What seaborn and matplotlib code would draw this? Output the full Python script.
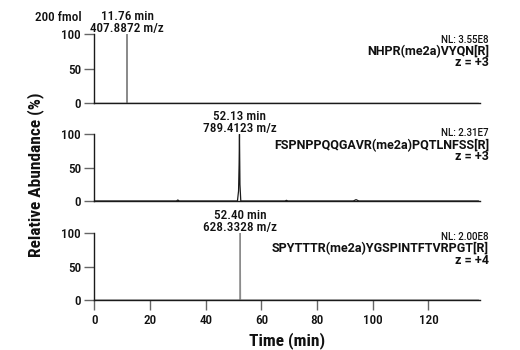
import matplotlib
matplotlib.use("Agg")
import matplotlib.pyplot as plt
import seaborn as sns
import pandas as pd
from matplotlib import font_manager

sns.set_theme(style="white")
names = {f.name for f in font_manager.fontManager.ttflist}
prefs = ["Roboto Condensed", "Liberation Sans Narrow", "Archivo Narrow",
         "IBM Plex Sans Condensed", "Liberation Sans", "DejaVu Sans"]
fam = [f for f in prefs if f in names]
plt.rcParams['font.family'] = fam
wide = [f for f in ["Roboto", "Liberation Sans", "DejaVu Sans"] if f in names]

# ---- data ----
t1 = [0, 11.70, 11.76, 11.82, 138]
i1 = [0, 0, 100, 0, 0]

t2 = [0, 29.5, 30.0, 30.5, 51.4, 51.8, 52.0, 52.13, 52.3, 52.6, 68.5, 69.0, 69.5,
      93.0, 94.0, 95.0, 138]
i2 = [0, 0, 1.5, 0, 0, 15, 55, 100, 25, 0, 0, 1.0, 0, 0, 2.0, 0, 0]

t3 = [0, 52.30, 52.40, 52.50, 138]
i3 = [0, 0, 100, 0, 0]

peak_rt = ["11.76 min", "52.13 min", "52.40 min"]
peak_mz = ["407.8872 m/z", "789.4123 m/z", "628.3328 m/z"]
peak_x = [11.76, 52.13, 52.40]
nl = ["NL: 3.55E8", "NL: 2.31E7", "NL: 2.00E8"]
peptides = ["NHPR(me2a)VYQN[R]", "FSPNPPQQGAVR(me2a)PQTLNFSS[R]", "SPYTTTR(me2a)YGSPINTFTVRPGT[R]"]
charges = ["z = +3", "z = +3", "z = +4"]
yticks = [0, 50, 100]
xticks = [0, 20, 40, 60, 80, 100, 120]

# ---- layout / style ----
traces = [(t1, i1), (t2, i2), (t3, i3)]
line_colors = ["#8c8c8c", "#1a1a1a", "#8c8c8c"]
W, H = 520, 350
left_px, right_px = 94.3, 480.0
panels_px = [(34.3, 103.3), (134.3, 201.0), (233.0, 300.0)]   # (top, bottom) in pixels
label_base = [(8.5, 20.5, 32), (2, 14.5, 26), (7.5, 19.5, 31)] # baselines, px below top
text_right_px = 9                                               # text right edge past axis end

fig = plt.figure(figsize=(W / 100, H / 100), dpi=100)
tc = "#111111"

for k in range(3):
    top, bot = panels_px[k]
    ax = fig.add_axes([left_px / W, 1 - bot / H, (right_px - left_px) / W, (bot - top) / H])
    df = pd.DataFrame({"t": traces[k][0], "i": traces[k][1]})
    sns.lineplot(data=df, x="t", y="i", ax=ax, color=line_colors[k], lw=0.9)
    ax.set_xlim(0, 138.5)
    ax.set_ylim(0, 100)
    for s in ["top", "right"]:
        ax.spines[s].set_visible(False)
    for s in ["left", "bottom"]:
        ax.spines[s].set_color("#1a1a1a")
        ax.spines[s].set_linewidth(1.0)
    ax.set_yticks(yticks)
    ax.tick_params(axis="y", which="both", left=True, direction="out", length=7,
                   width=1.0, color="#666666", labelsize=9.5, pad=2.5, labelcolor=tc)
    for lab in ax.get_yticklabels():
        lab.set_fontweight("medium")
    ax.set_xlabel("")
    ax.set_ylabel("")
    if k < 2:
        ax.set_xticks([])
    else:
        ax.set_xticks(xticks)
        ax.tick_params(axis="x", which="both", bottom=True, direction="out", length=7,
                       width=1.0, color="#666666", labelsize=9.5, pad=3, labelcolor=tc)
        for lab in ax.get_xticklabels():
            lab.set_fontweight("medium")
        ax.set_xlabel("Time (min)", fontsize=12.5, fontweight="bold", color=tc, labelpad=4)
    ax.grid(False)
    ax.patch.set_alpha(0)
    # peak labels
    ax.annotate(peak_mz[k], xy=(peak_x[k], 100), xytext=(0, 2.5), textcoords="offset pixels",
                ha="center", va="baseline", fontsize=9.5, fontweight="medium", color=tc,
                annotation_clip=False)
    ax.annotate(peak_rt[k], xy=(peak_x[k], 100), xytext=(0, 14), textcoords="offset pixels",
                ha="center", va="baseline", fontsize=9.5, fontweight="medium", color=tc,
                annotation_clip=False)
    # right labels
    b_nl, b_pep, b_z = label_base[k]
    ax.annotate(nl[k], xy=(1, 1), xycoords="axes fraction", xytext=(text_right_px, -b_nl),
                textcoords="offset pixels", ha="right", va="baseline", fontsize=7,
                family=wide, fontweight="medium", color=tc, annotation_clip=False)
    ax.annotate(peptides[k], xy=(1, 1), xycoords="axes fraction", xytext=(text_right_px, -b_pep),
                textcoords="offset pixels", ha="right", va="baseline", fontsize=9,
                family=wide, fontweight="bold", color=tc, annotation_clip=False)
    ax.annotate(charges[k], xy=(1, 1), xycoords="axes fraction", xytext=(text_right_px, -b_z),
                textcoords="offset pixels", ha="right", va="baseline", fontsize=9,
                family=wide, fontweight="bold", color=tc, annotation_clip=False)

fig.text(58.5 / W, 1 - 17.5 / H, "200 fmol", ha="center", va="center", fontsize=9.5,
         fontweight="medium", color=tc)
fig.text(36 / W, 1 - 175 / H, "Relative Abundance (%)", rotation=90, ha="center",
         va="center", fontsize=12.5, fontweight="bold", color=tc)

fig.savefig("out.png", dpi=100, facecolor="white")
